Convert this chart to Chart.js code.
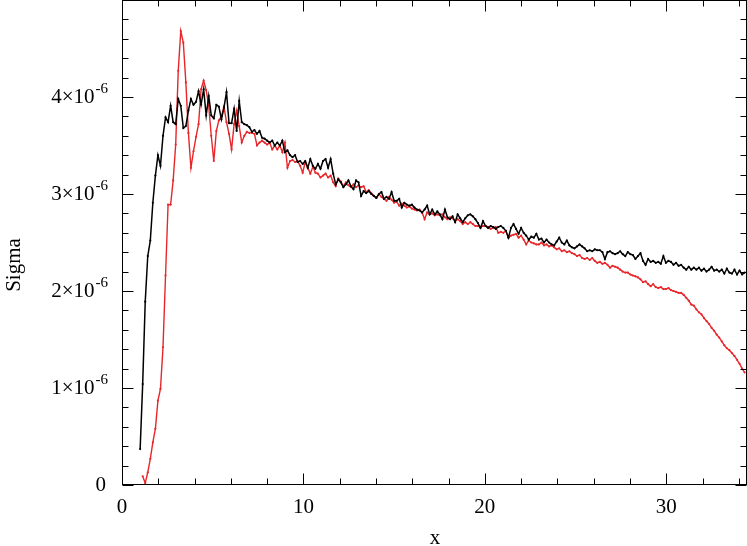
<!DOCTYPE html>
<html>
<head>
<meta charset="utf-8">
<script src="https://cdn.jsdelivr.net/npm/chart.js@4/dist/chart.umd.min.js"></script>
<style>
html,body{margin:0;padding:0;background:#fff;}
#wrap{width:747px;height:546px;position:relative;}
</style>
</head>
<body>
<div id="wrap"><canvas id="c" width="747" height="546"></canvas></div>
<script>
// x positions (sampling grid)
const xValues = [
1.00,1.14,1.28,1.42,1.56,1.70,1.84,1.98,2.12,2.26,
2.40,2.54,2.68,2.82,2.96,3.10,3.24,3.38,3.52,3.66,
3.80,3.94,4.08,4.22,4.36,4.50,4.64,4.78,4.92,5.06,
5.20,5.34,5.48,5.62,5.76,5.90,6.04,6.18,6.32,6.46,
6.60,6.74,6.88,7.02,7.16,7.30,7.44,7.58,7.72,7.86,
8.00,8.14,8.28,8.42,8.56,8.70,8.84,8.98,9.12,9.26,
9.40,9.54,9.68,9.82,9.96,10.10,10.24,10.38,10.52,10.66,
10.80,10.94,11.08,11.22,11.36,11.50,11.64,11.78,11.92,12.06,
12.20,12.34,12.48,12.62,12.76,12.90,13.04,13.18,13.32,13.46,
13.60,13.74,13.88,14.02,14.16,14.30,14.44,14.58,14.72,14.86,
15.00,15.14,15.28,15.42,15.56,15.70,15.84,15.98,16.12,16.26,
16.40,16.54,16.68,16.82,16.96,17.10,17.24,17.38,17.52,17.66,
17.80,17.94,18.08,18.22,18.36,18.50,18.64,18.78,18.92,19.06,
19.20,19.34,19.48,19.62,19.76,19.90,20.04,20.18,20.32,20.46,
20.60,20.74,20.88,21.02,21.16,21.30,21.44,21.58,21.72,21.86,
22.00,22.14,22.28,22.42,22.56,22.70,22.84,22.98,23.12,23.26,
23.40,23.54,23.68,23.82,23.96,24.10,24.24,24.38,24.52,24.66,
24.80,24.94,25.08,25.22,25.36,25.50,25.64,25.78,25.92,26.06,
26.20,26.34,26.48,26.62,26.76,26.90,27.04,27.18,27.32,27.46,
27.60,27.74,27.88,28.02,28.16,28.30,28.44,28.58,28.72,28.86,
29.00,29.14,29.28,29.42,29.56,29.70,29.84,29.98,30.12,30.26,
30.40,30.54,30.68,30.82,30.96,31.10,31.24,31.38,31.52,31.66,
31.80,31.94,32.08,32.22,32.36,32.50,32.64,32.78,32.92,33.06,
33.20,33.34,33.48,33.62,33.76,33.90,34.04,34.18,34.32
];

// Sigma values, in units of 1e-6
const blackSigma = [
0.37,1.04,1.89,2.36,2.52,2.91,3.19,3.40,3.29,3.60,
3.79,3.74,3.91,3.74,3.72,3.98,3.91,3.68,3.70,3.86,
3.98,3.92,3.95,4.06,3.92,4.08,3.81,4.01,3.81,3.78,
3.92,3.90,3.77,3.89,4.05,3.73,3.73,3.88,3.65,3.96,
3.74,3.72,3.71,3.69,3.64,3.66,3.62,3.65,3.58,3.57,
3.55,3.53,3.55,3.50,3.53,3.50,3.55,3.43,3.45,3.40,
3.38,3.40,3.33,3.34,3.31,3.34,3.27,3.36,3.29,3.26,
3.31,3.26,3.34,3.36,3.27,3.36,3.21,3.10,3.15,3.12,
3.07,3.10,3.14,3.08,3.05,3.14,3.12,2.98,3.03,3.01,
3.03,3.00,2.98,2.96,3.00,3.02,2.95,2.97,2.95,3.02,
2.93,2.93,2.95,2.86,2.91,2.89,2.88,2.89,2.86,2.84,
2.83,2.81,2.84,2.88,2.79,2.84,2.79,2.82,2.79,2.74,
2.84,2.76,2.74,2.77,2.71,2.79,2.75,2.71,2.75,2.78,
2.79,2.77,2.74,2.70,2.65,2.72,2.67,2.65,2.67,2.66,
2.64,2.66,2.67,2.65,2.62,2.55,2.65,2.69,2.64,2.59,
2.65,2.60,2.57,2.53,2.56,2.55,2.59,2.53,2.54,2.50,
2.53,2.50,2.48,2.47,2.51,2.55,2.50,2.48,2.52,2.47,
2.45,2.44,2.46,2.48,2.46,2.44,2.41,2.42,2.41,2.43,
2.42,2.42,2.40,2.33,2.40,2.41,2.39,2.38,2.39,2.41,
2.38,2.36,2.40,2.38,2.37,2.33,2.36,2.39,2.31,2.27,
2.33,2.30,2.31,2.29,2.30,2.28,2.36,2.29,2.31,2.30,
2.27,2.29,2.26,2.27,2.24,2.22,2.25,2.22,2.24,2.22,
2.24,2.21,2.23,2.20,2.22,2.25,2.21,2.22,2.20,2.22,
2.18,2.23,2.19,2.18,2.22,2.17,2.21,2.17,2.19
];

const redSigma = [
null,0.09,0.02,0.13,0.27,0.44,0.58,0.87,0.99,1.42,
2.16,2.89,2.89,3.14,3.51,4.27,4.68,4.56,4.15,3.63,
3.27,3.44,3.59,3.72,4.08,4.17,4.07,3.91,3.60,3.34,
3.65,3.76,3.80,3.90,3.74,3.62,3.46,3.72,3.86,3.70,
3.53,3.60,3.64,3.63,3.63,3.62,3.50,3.53,3.55,3.53,
3.51,3.53,3.46,3.50,3.46,3.50,3.43,3.53,3.27,3.34,
3.35,3.33,3.34,3.29,3.22,3.33,3.27,3.21,3.28,3.22,
3.21,3.17,3.19,3.21,3.17,3.19,3.12,3.08,3.16,3.13,
3.08,3.12,3.09,3.07,3.10,3.07,3.09,3.07,3.08,3.02,
3.04,3.01,2.98,2.96,3.00,2.97,2.95,2.93,2.97,2.94,
2.91,2.92,2.88,2.90,2.88,2.86,2.87,2.85,2.84,2.83,
2.84,2.81,2.74,2.81,2.79,2.80,2.78,2.79,2.78,2.79,
2.76,2.74,2.76,2.75,2.72,2.74,2.72,2.69,2.71,2.69,
2.71,2.69,2.67,2.67,2.66,2.67,2.67,2.66,2.64,2.65,
2.66,2.60,2.61,2.60,2.62,2.55,2.57,2.58,2.59,2.55,
2.57,2.53,2.48,2.52,2.50,2.49,2.48,2.48,2.50,2.47,
2.48,2.46,2.47,2.45,2.43,2.44,2.41,2.42,2.40,2.41,
2.39,2.38,2.36,2.37,2.34,2.33,2.34,2.32,2.34,2.31,
2.29,2.30,2.28,2.29,2.27,2.24,2.26,2.25,2.24,2.22,
2.20,2.19,2.19,2.17,2.16,2.15,2.14,2.12,2.09,2.10,
2.07,2.05,2.07,2.04,2.03,2.04,2.02,2.02,2.03,2.01,
2.00,1.99,1.98,1.98,1.96,1.93,1.90,1.86,1.85,1.81,
1.78,1.76,1.72,1.69,1.66,1.62,1.59,1.55,1.52,1.48,
1.44,1.41,1.39,1.36,1.33,1.29,1.25,1.20,1.16
];

// axis ticks
const xMajorTicks = [0,10,20,30];
const xMinorTicks = [2,4,6,8,12,14,16,18,22,24,26,28,32,34];
const yMajorTicks = [0,1,2,3,4];
const yMinorTicks = [0.2,0.4,0.6,0.8,1.2,1.4,1.6,1.8,2.2,2.4,2.6,2.8,3.2,3.4,3.6,3.8,4.2,4.4,4.6,4.8];
const yExponent = '-6';
const xTitle = 'x';
const yTitle = 'Sigma';

const FONT = '"Liberation Serif","Times New Roman",serif';

function toPoints(ys){ return xValues.map((x,i)=>({x:x,y:ys[i]})); }

const axesPlugin = {
  id:'gnuAxes',
  afterDatasetsDraw(chart){
    const ctx = chart.ctx, a = chart.chartArea, xs = chart.scales.x, ys = chart.scales.y;
    ctx.save();
    ctx.strokeStyle = '#000';
    ctx.lineWidth = 1;
    const L = Math.round(a.left)+0.5, R = Math.round(a.right)-0.5, T = Math.round(a.top)+0.5, B = Math.round(a.bottom)-0.5;
    ctx.strokeRect(L, T, R-L, B-T);
    ctx.beginPath();
    function xt(v,len){ const p = Math.round(xs.getPixelForValue(v))+0.5; ctx.moveTo(p,B); ctx.lineTo(p,B-len); ctx.moveTo(p,T); ctx.lineTo(p,T+len); }
    function yt(v,len){ const p = Math.round(ys.getPixelForValue(v))+0.5; ctx.moveTo(L,p); ctx.lineTo(L+len,p); ctx.moveTo(R,p); ctx.lineTo(R-len,p); }
    xMajorTicks.forEach(v=>xt(v,11)); xMinorTicks.forEach(v=>xt(v,6));
    yMajorTicks.forEach(v=>yt(v,11)); yMinorTicks.forEach(v=>yt(v,6));
    ctx.stroke();

    ctx.fillStyle = '#000';
    // x tick labels
    ctx.font = '21px ' + FONT;
    ctx.textAlign = 'center'; ctx.textBaseline = 'middle';
    xMajorTicks.forEach(v=>{ ctx.fillText(String(v), xs.getPixelForValue(v), 507); });
    // y tick labels
    const rightEdge = 108;
    yMajorTicks.forEach(v=>{
      const py = ys.getPixelForValue(v);
      if (v === 0) {
        ctx.font = '21px ' + FONT; ctx.textAlign='right'; ctx.textBaseline='middle';
        ctx.fillText('0', rightEdge-2, py);
      } else {
        ctx.font = '15px ' + FONT; ctx.textAlign='right'; ctx.textBaseline='middle';
        const w2 = ctx.measureText(yExponent).width;
        ctx.fillText(yExponent, rightEdge, py-8);
        ctx.font = '21px ' + FONT;
        ctx.fillText(v + '\u00d710', rightEdge - w2 - 1, py);
      }
    });
    // titles
    ctx.font = '21px ' + FONT; ctx.textAlign='center'; ctx.textBaseline='middle';
    ctx.fillText(xTitle, 435, 538);
    ctx.save();
    ctx.translate(14, 265);
    ctx.rotate(-Math.PI/2);
    ctx.fillText(yTitle, 0, 0);
    ctx.restore();
    ctx.restore();
  }
};

new Chart(document.getElementById('c'), {
  type:'line',
  data:{
    datasets:[
      {label:'black', data:toPoints(blackSigma), borderColor:'#000000', backgroundColor:'#000000',
       borderWidth:1.5, pointRadius:1.1, pointStyle:'circle', pointBorderWidth:0, tension:0, spanGaps:false},
      {label:'red', data:toPoints(redSigma), borderColor:'#e8262a', backgroundColor:'#e8262a',
       borderWidth:1.4, pointRadius:1.1, pointStyle:'circle', pointBorderWidth:0, tension:0, spanGaps:false}
    ]
  },
  options:{
    responsive:false, animation:false, devicePixelRatio:1,
    layout:{autoPadding:false, padding:{left:122, right:0, top:0, bottom:61}},
    plugins:{legend:{display:false}, tooltip:{enabled:false}},
    scales:{
      x:{type:'linear', min:0, max:34.45, display:false},
      y:{type:'linear', min:0, max:5, display:false}
    }
  },
  plugins:[axesPlugin]
});
</script>
</body>
</html>
